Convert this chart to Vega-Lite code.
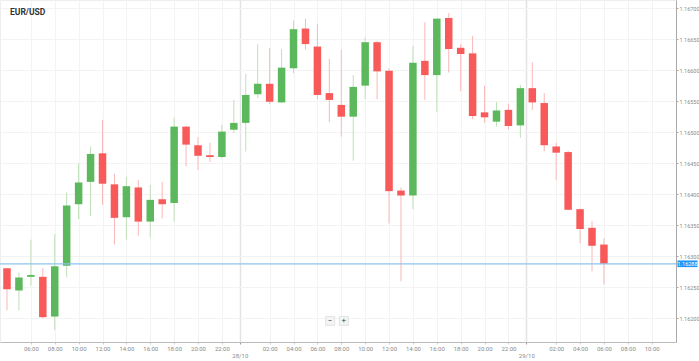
{
  "$schema": "https://vega.github.io/schema/vega-lite/v6.json",
  "width": 676,
  "height": 342,
  "autosize": {"type": "none"},
  "padding": {"left": 0, "top": 0, "right": 23, "bottom": 19},
  "background": "white",
  "title": {"text": "EUR/USD", "anchor": "start", "frame": "group", "offset": -16, "dx": 10, "fontSize": 8.5, "fontWeight": "bold", "color": "#333333", "font": "Roboto"},
  "config": {
    "view": {"stroke": "#eeeeee"},
    "font": "Roboto"
  },
  "resolve": {"axis": {"x": "independent", "y": "independent"}},
  "datasets": {
    "candles": [
      {"t": "2021-10-27T04:00:00Z", "open": 1.16281, "high": 1.16281, "low": 1.16213, "close": 1.16247},
      {"t": "2021-10-27T05:00:00Z", "open": 1.16245, "high": 1.16274, "low": 1.16213, "close": 1.16266},
      {"t": "2021-10-27T06:00:00Z", "open": 1.16267, "high": 1.16327, "low": 1.16253, "close": 1.16270},
      {"t": "2021-10-27T07:00:00Z", "open": 1.16267, "high": 1.16281, "low": 1.16200, "close": 1.16202},
      {"t": "2021-10-27T08:00:00Z", "open": 1.16203, "high": 1.16336, "low": 1.16181, "close": 1.16284},
      {"t": "2021-10-27T09:00:00Z", "open": 1.16285, "high": 1.16403, "low": 1.16266, "close": 1.16382},
      {"t": "2021-10-27T10:00:00Z", "open": 1.16384, "high": 1.16450, "low": 1.16360, "close": 1.16419},
      {"t": "2021-10-27T11:00:00Z", "open": 1.16420, "high": 1.16477, "low": 1.16365, "close": 1.16465},
      {"t": "2021-10-27T12:00:00Z", "open": 1.16466, "high": 1.16520, "low": 1.16383, "close": 1.16417},
      {"t": "2021-10-27T13:00:00Z", "open": 1.16416, "high": 1.16433, "low": 1.16319, "close": 1.16362},
      {"t": "2021-10-27T14:00:00Z", "open": 1.16363, "high": 1.16428, "low": 1.16327, "close": 1.16413},
      {"t": "2021-10-27T15:00:00Z", "open": 1.16411, "high": 1.16423, "low": 1.16333, "close": 1.16356},
      {"t": "2021-10-27T16:00:00Z", "open": 1.16356, "high": 1.16415, "low": 1.16330, "close": 1.16391},
      {"t": "2021-10-27T17:00:00Z", "open": 1.16392, "high": 1.16420, "low": 1.16361, "close": 1.16384},
      {"t": "2021-10-27T18:00:00Z", "open": 1.16386, "high": 1.16524, "low": 1.16356, "close": 1.16509},
      {"t": "2021-10-27T19:00:00Z", "open": 1.16509, "high": 1.16510, "low": 1.16445, "close": 1.16480},
      {"t": "2021-10-27T20:00:00Z", "open": 1.16479, "high": 1.16492, "low": 1.16439, "close": 1.16462},
      {"t": "2021-10-27T21:00:00Z", "open": 1.16463, "high": 1.16483, "low": 1.16452, "close": 1.16460},
      {"t": "2021-10-27T22:00:00Z", "open": 1.16460, "high": 1.16512, "low": 1.16458, "close": 1.16501},
      {"t": "2021-10-27T23:00:00Z", "open": 1.16504, "high": 1.16552, "low": 1.16499, "close": 1.16515},
      {"t": "2021-10-28T00:00:00Z", "open": 1.16515, "high": 1.16594, "low": 1.16469, "close": 1.16560},
      {"t": "2021-10-28T01:00:00Z", "open": 1.16561, "high": 1.16642, "low": 1.16555, "close": 1.16578},
      {"t": "2021-10-28T02:00:00Z", "open": 1.16578, "high": 1.16636, "low": 1.16545, "close": 1.16549},
      {"t": "2021-10-28T03:00:00Z", "open": 1.16548, "high": 1.16634, "low": 1.16547, "close": 1.16604},
      {"t": "2021-10-28T04:00:00Z", "open": 1.16603, "high": 1.16680, "low": 1.16595, "close": 1.16666},
      {"t": "2021-10-28T05:00:00Z", "open": 1.16667, "high": 1.16683, "low": 1.16633, "close": 1.16642},
      {"t": "2021-10-28T06:00:00Z", "open": 1.16638, "high": 1.16674, "low": 1.16553, "close": 1.16560},
      {"t": "2021-10-28T07:00:00Z", "open": 1.16563, "high": 1.16618, "low": 1.16516, "close": 1.16552},
      {"t": "2021-10-28T08:00:00Z", "open": 1.16544, "high": 1.16633, "low": 1.16493, "close": 1.16525},
      {"t": "2021-10-28T09:00:00Z", "open": 1.16525, "high": 1.16592, "low": 1.16454, "close": 1.16573},
      {"t": "2021-10-28T10:00:00Z", "open": 1.16575, "high": 1.16653, "low": 1.16553, "close": 1.16645},
      {"t": "2021-10-28T11:00:00Z", "open": 1.16645, "high": 1.16647, "low": 1.16553, "close": 1.16598},
      {"t": "2021-10-28T12:00:00Z", "open": 1.16599, "high": 1.16603, "low": 1.16353, "close": 1.16405},
      {"t": "2021-10-28T13:00:00Z", "open": 1.16406, "high": 1.16411, "low": 1.16260, "close": 1.16398},
      {"t": "2021-10-28T14:00:00Z", "open": 1.16398, "high": 1.16639, "low": 1.16376, "close": 1.16612},
      {"t": "2021-10-28T15:00:00Z", "open": 1.16615, "high": 1.16677, "low": 1.16552, "close": 1.16592},
      {"t": "2021-10-28T16:00:00Z", "open": 1.16592, "high": 1.16683, "low": 1.16533, "close": 1.16683},
      {"t": "2021-10-28T17:00:00Z", "open": 1.16684, "high": 1.16692, "low": 1.16596, "close": 1.16634},
      {"t": "2021-10-28T18:00:00Z", "open": 1.16636, "high": 1.16642, "low": 1.16566, "close": 1.16626},
      {"t": "2021-10-28T19:00:00Z", "open": 1.16627, "high": 1.16655, "low": 1.16521, "close": 1.16526},
      {"t": "2021-10-28T20:00:00Z", "open": 1.16532, "high": 1.16575, "low": 1.16515, "close": 1.16524},
      {"t": "2021-10-28T21:00:00Z", "open": 1.16517, "high": 1.16549, "low": 1.16509, "close": 1.16535},
      {"t": "2021-10-28T22:00:00Z", "open": 1.16536, "high": 1.16546, "low": 1.16504, "close": 1.16510},
      {"t": "2021-10-28T23:00:00Z", "open": 1.16511, "high": 1.16576, "low": 1.16491, "close": 1.16571},
      {"t": "2021-10-29T00:00:00Z", "open": 1.16571, "high": 1.16613, "low": 1.16536, "close": 1.16548},
      {"t": "2021-10-29T01:00:00Z", "open": 1.16547, "high": 1.16563, "low": 1.16469, "close": 1.16479},
      {"t": "2021-10-29T02:00:00Z", "open": 1.16477, "high": 1.16483, "low": 1.16423, "close": 1.16467},
      {"t": "2021-10-29T03:00:00Z", "open": 1.16468, "high": 1.16470, "low": 1.16374, "close": 1.16375},
      {"t": "2021-10-29T04:00:00Z", "open": 1.16376, "high": 1.16377, "low": 1.16321, "close": 1.16344},
      {"t": "2021-10-29T05:00:00Z", "open": 1.16346, "high": 1.16357, "low": 1.16276, "close": 1.16317},
      {"t": "2021-10-29T06:00:00Z", "open": 1.16319, "high": 1.16329, "low": 1.16255, "close": 1.16288}
    ],
    "current": [{"price": 1.16288, "label": "1.16288"}]
  },
  "layer": [
    {
      "data": {"name": "candles"},
      "mark": {"type": "rule", "strokeWidth": 1},
      "encoding": {
        "x": {
          "field": "t", "type": "temporal",
          "scale": {"type": "utc", "domain": [1635306600000, 1635507420000]},
          "axis": {
            "orient": "bottom",
            "title": null,
            "values": [1635314400000, 1635321600000, 1635328800000, 1635336000000, 1635343200000, 1635350400000, 1635357600000, 1635364800000, 1635372000000, 1635377400000, 1635386400000, 1635393600000, 1635400800000, 1635408000000, 1635415200000, 1635422400000, 1635429600000, 1635436800000, 1635444000000, 1635451200000, 1635458400000, 1635463800000, 1635472800000, 1635480000000, 1635487200000, 1635494400000, 1635501600000],
            "labelExpr": "utchours(datum.value) == 23 ? ['', utcFormat(time(datum.value) + 1800000, '%d/%m')] : utcFormat(datum.value, '%H:%M')",
            "labelFontSize": 6,
            "labelColor": "#8a8a8a",
            "labelLineHeight": 7.5,
            "labelPadding": 1,
            "labelBaseline": "top",
            "labelOverlap": false,
            "labelFlush": false,
            "labelBound": false,
            "tickSize": 2,
            "tickColor": {"condition": {"test": "utchours(datum.value) == 23", "value": "#999999"}, "value": "#cccccc"},
            "domainColor": "#bbbbbb",
            "grid": true,
            "gridColor": {"condition": {"test": "utchours(datum.value) == 23", "value": "#e3e3e3"}, "value": "#f3f3f3"},
            "gridWidth": {"condition": {"test": "utchours(datum.value) == 23", "value": 1.5}, "value": 1}
          }
        },
        "y": {
          "field": "low", "type": "quantitative",
          "scale": {"domain": [1.16162, 1.16713], "nice": false, "zero": false},
          "axis": {
            "orient": "right",
            "title": null,
            "values": [1.162, 1.1625, 1.163, 1.1635, 1.164, 1.1645, 1.165, 1.1655, 1.166, 1.1665, 1.167],
            "format": ".5f",
            "labelFontSize": 5.5,
            "labelColor": "#8a8a8a",
            "labelPadding": 1,
            "labelOverlap": false,
            "labelBound": false,
            "labelFlush": false,
            "tickSize": 2,
            "tickColor": "#aaaaaa",
            "domainColor": "#aaaaaa",
            "grid": true,
            "gridColor": "#f3f3f3"
          }
        },
        "y2": {"field": "high"},
        "color": {"condition": {"test": "datum.close >= datum.open", "value": "#bfe0b9"}, "value": "#f9b8b8"}
      }
    },
    {
      "data": {"name": "candles"},
      "mark": {"type": "bar", "width": 7.5},
      "encoding": {
        "x": {"field": "t", "type": "temporal", "axis": null},
        "y": {"field": "open", "type": "quantitative", "axis": null},
        "y2": {"field": "close"},
        "color": {"condition": {"test": "datum.close >= datum.open", "value": "#5cb85c"}, "value": "#f85a5a"}
      }
    },
    {
      "data": {"name": "current"},
      "mark": {"type": "rule", "color": "#8cc4f2", "strokeWidth": 1.2},
      "encoding": {"y": {"field": "price", "type": "quantitative", "axis": null}}
    },
    {
      "data": {"name": "current"},
      "mark": {"type": "point", "shape": "M-1.5,-0.5H1.5V0.5H-1.5Z", "size": 178, "filled": true, "opacity": 1, "color": "#2196f3", "xOffset": 11.5},
      "encoding": {
        "x": {"value": "width"},
        "y": {"field": "price", "type": "quantitative", "axis": null}
      }
    },
    {
      "data": {"name": "current"},
      "mark": {"type": "text", "color": "white", "fontSize": 5.5, "align": "center", "baseline": "middle", "dx": 11.5},
      "encoding": {
        "x": {"value": "width"},
        "y": {"field": "price", "type": "quantitative", "axis": null},
        "text": {"field": "label"}
      }
    },
    {
      "data": {"values": [{"label": "−"}]},
      "encoding": {
        "x": {"datum": 1635404640000, "type": "temporal", "axis": null},
        "y": {"datum": 1.16196, "type": "quantitative", "axis": null}
      },
      "layer": [
        {"mark": {"type": "point", "shape": "square", "size": 81, "filled": true, "opacity": 1, "color": "#f4f4f4", "stroke": "#dddddd", "strokeWidth": 0.8}},
        {"mark": {"type": "text", "color": "#444444", "fontSize": 8, "align": "center", "baseline": "middle"}, "encoding": {"text": {"field": "label"}}}
      ]
    },
    {
      "data": {"values": [{"label": "+"}]},
      "encoding": {
        "x": {"datum": 1635408780000, "type": "temporal", "axis": null},
        "y": {"datum": 1.16196, "type": "quantitative", "axis": null}
      },
      "layer": [
        {"mark": {"type": "point", "shape": "square", "size": 81, "filled": true, "opacity": 1, "color": "#f4f4f4", "stroke": "#dddddd", "strokeWidth": 0.8}},
        {"mark": {"type": "text", "color": "#444444", "fontSize": 8, "align": "center", "baseline": "middle"}, "encoding": {"text": {"field": "label"}}}
      ]
    }
  ]
}
